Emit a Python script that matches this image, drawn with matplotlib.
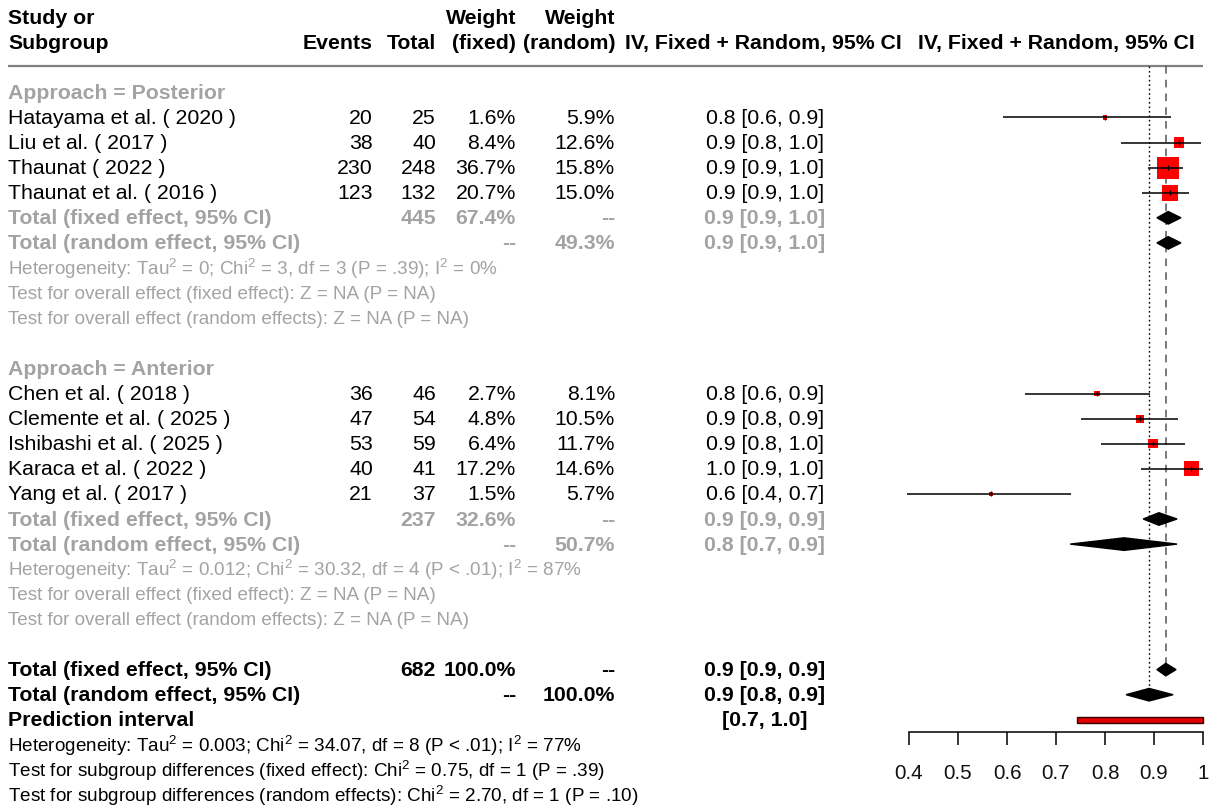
import matplotlib
matplotlib.use("Agg")
import numpy as np
import matplotlib.pyplot as plt

plt.rcParams['font.family'] = ['Liberation Sans', 'DejaVu Sans']
plt.rcParams['mathtext.fontset'] = 'custom'
plt.rcParams['mathtext.rm'] = 'Liberation Sans'
plt.rcParams['mathtext.it'] = 'Liberation Sans:italic'

# -----------------------------
# DATA
# -----------------------------
post_studies = ["Hatayama et al. ( 2020 )", "Liu et al. ( 2017 )",
                "Thaunat ( 2022 )", "Thaunat et al. ( 2016 )"]
post_events = [20, 38, 230, 123]
post_totals = [25, 40, 248, 132]
post_wfix = [1.6, 8.4, 36.7, 20.7]
post_wran = [5.9, 12.6, 15.8, 15.0]
post_ci_txt = ["0.8 [0.6, 0.9]", "0.9 [0.8, 1.0]", "0.9 [0.9, 1.0]", "0.9 [0.9, 1.0]"]
post_est = [0.800, 0.951, 0.929, 0.933]
post_lo = [0.592, 0.833, 0.888, 0.876]
post_hi = [0.935, 0.996, 0.959, 0.971]

ant_studies = ["Chen et al. ( 2018 )", "Clemente et al. ( 2025 )",
               "Ishibashi et al. ( 2025 )", "Karaca et al. ( 2022 )",
               "Yang et al. ( 2017 )"]
ant_events = [36, 47, 53, 40, 21]
ant_totals = [46, 54, 59, 41, 37]
ant_wfix = [2.7, 4.8, 6.4, 17.2, 1.5]
ant_wran = [8.1, 10.5, 11.7, 14.6, 5.7]
ant_ci_txt = ["0.8 [0.6, 0.9]", "0.9 [0.8, 0.9]", "0.9 [0.8, 1.0]",
              "1.0 [0.9, 1.0]", "0.6 [0.4, 0.7]"]
ant_est = [0.784, 0.871, 0.898, 0.976, 0.567]
ant_lo = [0.637, 0.751, 0.792, 0.873, 0.396]
ant_hi = [0.892, 0.949, 0.963, 1.000, 0.731]

# summary rows: label, total, w_fixed, w_random, ci text, (lo, est, hi)
sum_labels = ["Total (fixed effect, 95% CI)", "Total (random effect, 95% CI)"]
post_sum_total = ["445", ""]
post_sum_wfix = ["67.4%", "--"]
post_sum_wran = ["--", "49.3%"]
post_sum_ci = ["0.9 [0.9, 1.0]", "0.9 [0.9, 1.0]"]
post_sum_diam = [(0.906, 0.929, 0.955), (0.906, 0.929, 0.955)]

ant_sum_total = ["237", ""]
ant_sum_wfix = ["32.6%", "--"]
ant_sum_wran = ["--", "50.7%"]
ant_sum_ci = ["0.9 [0.9, 0.9]", "0.8 [0.7, 0.9]"]
ant_sum_diam = [(0.878, 0.910, 0.947), (0.729, 0.839, 0.947)]

all_sum_total = ["682", ""]
all_sum_wfix = ["100.0%", "--"]
all_sum_wran = ["--", "100.0%"]
all_sum_ci = ["0.9 [0.9, 0.9]", "0.9 [0.8, 0.9]"]
all_sum_diam = [(0.906, 0.924, 0.945), (0.843, 0.890, 0.939)]

pred_txt = "[0.7, 1.0]"
pred_lo, pred_hi = 0.743, 1.000
fixed_overall = 0.9245
random_overall = 0.890

post_notes = [r"Heterogeneity: Tau$^2$ = 0; Chi$^2$ = 3, df = 3 (P = .39); I$^2$ = 0%",
              "Test for overall effect (fixed effect): Z = NA (P = NA)",
              "Test for overall effect (random effects): Z = NA (P = NA)"]
ant_notes = [r"Heterogeneity: Tau$^2$ = 0.012; Chi$^2$ = 30.32, df = 4 (P < .01); I$^2$ = 87%",
             "Test for overall effect (fixed effect): Z = NA (P = NA)",
             "Test for overall effect (random effects): Z = NA (P = NA)"]
all_notes = [r"Heterogeneity: Tau$^2$ = 0.003; Chi$^2$ = 34.07, df = 8 (P < .01); I$^2$ = 77%",
             r"Test for subgroup differences (fixed effect): Chi$^2$ = 0.75, df = 1 (P = .39)",
             r"Test for subgroup differences (random effects): Chi$^2$ = 2.70, df = 1 (P = .10)"]

x_ticks = [0.4, 0.5, 0.6, 0.7, 0.8, 0.9, 1.0]
x_ticklabels = ["0.4", "0.5", "0.6", "0.7", "0.8", "0.9", "1"]

# -----------------------------
# LAYOUT
# -----------------------------
W, H = 1211, 812
GRAY = "#a3a3a3"
FS = 15.3
FS_SMALL = 13.6
ROW0, ROWH = 18, 25.1          # pixel y of row 0, pixels per row
ylim = ((H - ROW0) / ROWH, -ROW0 / ROWH)

X_STUDY, X_EV, X_TOT, X_WF, X_WR, X_CI = 8, 373, 436, 516, 615, 765

fig = plt.figure(figsize=(W / 100, H / 100), dpi=100)
tx = fig.add_axes([0, 0, 1, 1])
tx.set_xlim(0, W)
tx.set_ylim(*ylim)
tx.axis("off")

fx = fig.add_axes([909 / W, 0, 294 / W, 1])
fx.set_xlim(0.4, 1.0)
fx.set_ylim(*ylim)
fx.patch.set_alpha(0)
for s in ["top", "right", "left"]:
    fx.spines[s].set_visible(False)
fx.set_yticks([])


def txt(x, r, s, ha="left", bold=False, color="black", size=FS):
    tx.text(x, r, s, ha=ha, va="center", fontsize=size,
            fontweight="bold" if bold else "normal", color=color)


# header
txt(X_STUDY, 0, "Study or", bold=True)
txt(X_STUDY, 1, "Subgroup", bold=True)
txt(X_EV, 1, "Events", ha="right", bold=True)
txt(X_TOT, 1, "Total", ha="right", bold=True)
txt(X_WF, 0, "Weight", ha="right", bold=True)
txt(X_WF, 1, "(fixed)", ha="right", bold=True)
txt(X_WR, 0, "Weight", ha="right", bold=True)
txt(X_WR, 1, "(random)", ha="right", bold=True)
txt(625, 1, "IV, Fixed + Random, 95% CI", bold=True)
txt(1056, 1, "IV, Fixed + Random, 95% CI", ha="center", bold=True)
tx.hlines(1.96, 8, 1203, color="#808080", lw=1.6)


def study_block(r0, label, studies, ev, tot, wf, wr, ci_txt, est, lo, hi,
                s_total, s_wf, s_wr, s_ci, s_diam, notes):
    txt(X_STUDY, r0, label, bold=True, color=GRAY)
    rows = np.arange(len(studies)) + r0 + 1
    for i, r in enumerate(rows):
        txt(X_STUDY, r, studies[i])
        txt(X_EV, r, str(ev[i]), ha="right")
        txt(X_TOT, r, str(tot[i]), ha="right")
        txt(X_WF, r, f"{wf[i]:.1f}%", ha="right")
        txt(X_WR, r, f"{wr[i]:.1f}%", ha="right")
        txt(X_CI, r, ci_txt[i], ha="center")
    # square area proportional to the fixed-effect weight
    side = 3.6 * np.sqrt(np.array(wf)) * 0.72
    fx.scatter(est, rows, marker="s", s=side ** 2, color="red",
               edgecolors="none", zorder=2, clip_on=False)
    fx.hlines(rows, lo, hi, color="black", lw=1.1, zorder=3, clip_on=False)
    fx.vlines(est, rows - 0.1, rows + 0.1, color="black", lw=0.9, zorder=3)
    rs = rows[-1] + 1
    for k in range(2):
        r = rs + k
        txt(X_STUDY, r, sum_labels[k], bold=True, color=GRAY)
        txt(X_TOT, r, s_total[k], ha="right", bold=True, color=GRAY)
        txt(X_WF, r, s_wf[k], ha="right", bold=True, color=GRAY)
        txt(X_WR, r, s_wr[k], ha="right", bold=True, color=GRAY)
        txt(X_CI, r, s_ci[k], ha="center", bold=True, color=GRAY)
        l, e, h = s_diam[k]
        fx.fill([l, e, h, e], [r, r - 0.25, r, r + 0.25], color="black",
                zorder=3, clip_on=False)
    for k, note in enumerate(notes):
        txt(X_STUDY, rs + 2 + k, note, color=GRAY, size=FS_SMALL)


study_block(3, "Approach = Posterior", post_studies, post_events, post_totals,
            post_wfix, post_wran, post_ci_txt, post_est, post_lo, post_hi,
            post_sum_total, post_sum_wfix, post_sum_wran, post_sum_ci,
            post_sum_diam, post_notes)
study_block(14, "Approach = Anterior", ant_studies, ant_events, ant_totals,
            ant_wfix, ant_wran, ant_ci_txt, ant_est, ant_lo, ant_hi,
            ant_sum_total, ant_sum_wfix, ant_sum_wran, ant_sum_ci,
            ant_sum_diam, ant_notes)

# overall
for k in range(2):
    r = 26 + k
    txt(X_STUDY, r, sum_labels[k], bold=True)
    txt(X_TOT, r, all_sum_total[k], ha="right", bold=True)
    txt(X_WF, r, all_sum_wfix[k], ha="right", bold=True)
    txt(X_WR, r, all_sum_wran[k], ha="right", bold=True)
    txt(X_CI, r, all_sum_ci[k], ha="center", bold=True)
    l, e, h = all_sum_diam[k]
    fx.fill([l, e, h, e], [r, r - 0.25, r, r + 0.25], color="black",
            zorder=3, clip_on=False)
txt(X_STUDY, 28, "Prediction interval", bold=True)
txt(X_CI, 28, pred_txt, ha="center", bold=True)
fx.barh(28, pred_hi - pred_lo, left=pred_lo, height=0.22, color="#e00000",
        edgecolor="#3a0000", lw=1.0, zorder=3, clip_on=False)
for k, note in enumerate(all_notes):
    txt(X_STUDY, 29 + k, note, size=FS_SMALL)

# reference lines
fx.vlines(fixed_overall, 1.96, 25.8, color="#555555", lw=1.1,
          linestyles=(0, (5, 4)), zorder=1)
fx.vlines(random_overall, 1.96, 27.0, color="black", lw=1.0,
          linestyles=(0, (1.2, 2)), zorder=1)

# x axis
fx.spines["bottom"].set_position(("data", (733 - ROW0) / ROWH))
fx.spines["bottom"].set_linewidth(1.1)
fx.set_xticks(x_ticks)
fx.set_xticklabels(x_ticklabels, fontsize=14.8, color="#111111")
fx.tick_params(axis="x", direction="out", length=9.4, width=1.1, pad=13)

fig.savefig("out.png", dpi=100)
